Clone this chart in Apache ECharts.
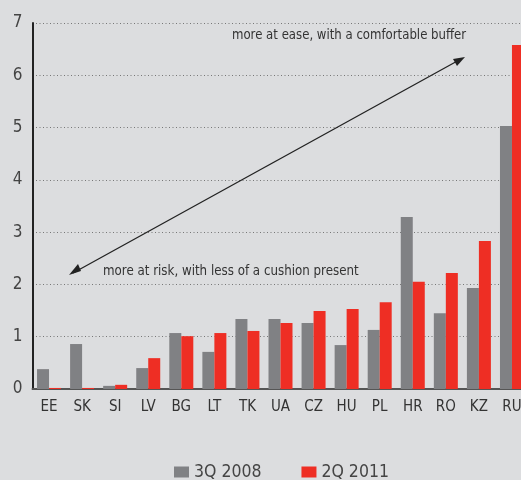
<!DOCTYPE html>
<html>
<head>
<meta charset="utf-8">
<script src="https://cdn.jsdelivr.net/npm/echarts@6/dist/echarts.min.js"></script>
<style>
  html, body { margin: 0; padding: 0; background: #dcdddf; }
  #chart { width: 521px; height: 480px; }
</style>
</head>
<body>
<div id="chart"></div>
<script>
// Country codes along the x axis
var countries = ['EE', 'SK', 'SI', 'LV', 'BG', 'LT', 'TK', 'UA', 'CZ', 'HU', 'PL', 'HR', 'RO', 'KZ', 'RU'];
// Values per period
var q3_2008 = [0.38, 0.86, 0.06, 0.40, 1.07, 0.71, 1.34, 1.34, 1.26, 0.84, 1.13, 3.29, 1.45, 1.93, 5.03];
var q2_2011 = [0.02, 0.02, 0.08, 0.59, 1.01, 1.07, 1.11, 1.26, 1.49, 1.53, 1.66, 2.05, 2.22, 2.83, 6.58];
// Y-axis ticks
var yTicks = [0, 1, 2, 3, 4, 5, 6, 7];

var FONT = "'DejaVu Sans Condensed', 'Roboto', sans-serif";
var GRAY = '#808184';
var RED = '#ee2e24';

var chart = echarts.init(document.getElementById('chart'), null, { renderer: 'canvas' });

chart.setOption({
  backgroundColor: '#dcdddf',
  animation: false,
  // the plot runs past the right edge of the canvas, so the last bar is partly cut off
  grid: { left: 32.5, width: 496, top: 23, bottom: 91, containLabel: false, outerBoundsMode: 'none' },
  legend: {
    top: 463,
    left: 174,
    padding: 0,
    itemWidth: 15,
    itemHeight: 11,
    itemGap: 40,
    icon: 'rect',
    textStyle: { fontFamily: FONT, fontSize: 17.5, color: '#444' },
    data: ['3Q 2008', '2Q 2011']
  },
  xAxis: {
    type: 'category',
    data: countries,
    axisLine: { lineStyle: { color: '#555', width: 2 } },
    axisTick: { show: false },
    axisLabel: { fontFamily: FONT, fontSize: 15, color: '#333', margin: 11, interval: 0 }
  },
  yAxis: {
    type: 'value',
    min: yTicks[0],
    max: yTicks[yTicks.length - 1],
    interval: 1,
    axisLine: { show: true, lineStyle: { color: '#222', width: 2 } },
    axisTick: { show: false },
    axisLabel: { fontFamily: FONT, fontSize: 17, color: '#444', margin: 10 },
    splitLine: { lineStyle: { color: '#777', width: 1, type: [1, 2.5] } }
  },
  series: [
    {
      name: '3Q 2008',
      type: 'bar',
      data: q3_2008,
      barWidth: 12,
      barGap: '0%',
      itemStyle: { color: GRAY },
      z: 3
    },
    {
      name: '2Q 2011',
      type: 'bar',
      data: q2_2011,
      barWidth: 12,
      barGap: '0%',
      itemStyle: { color: RED },
      z: 3
    }
  ],
  graphic: [
    {
      type: 'line',
      shape: { x1: 73, y1: 273, x2: 461, y2: 59 },
      style: { stroke: '#222', lineWidth: 1.3 },
      z: 10
    },
    {
      // arrowhead at lower-left end
      type: 'polygon',
      shape: { points: [[69, 275], [78, 264], [81, 271]] },
      style: { fill: '#222' },
      z: 10
    },
    {
      // arrowhead at upper-right end
      type: 'polygon',
      shape: { points: [[465, 57], [453, 59], [457, 66]] },
      style: { fill: '#222' },
      z: 10
    },
    {
      type: 'text',
      x: 232,
      y: 28,
      scaleX: 0.9,
      style: { text: 'more at ease, with a comfortable buffer', fontFamily: FONT, fontSize: 14.5, fill: '#333' },
      z: 10
    },
    {
      type: 'text',
      x: 103,
      y: 264,
      scaleX: 0.91,
      style: { text: 'more at risk, with less of a cushion present', fontFamily: FONT, fontSize: 14.5, fill: '#333' },
      z: 10
    }
  ]
});
</script>
</body>
</html>
